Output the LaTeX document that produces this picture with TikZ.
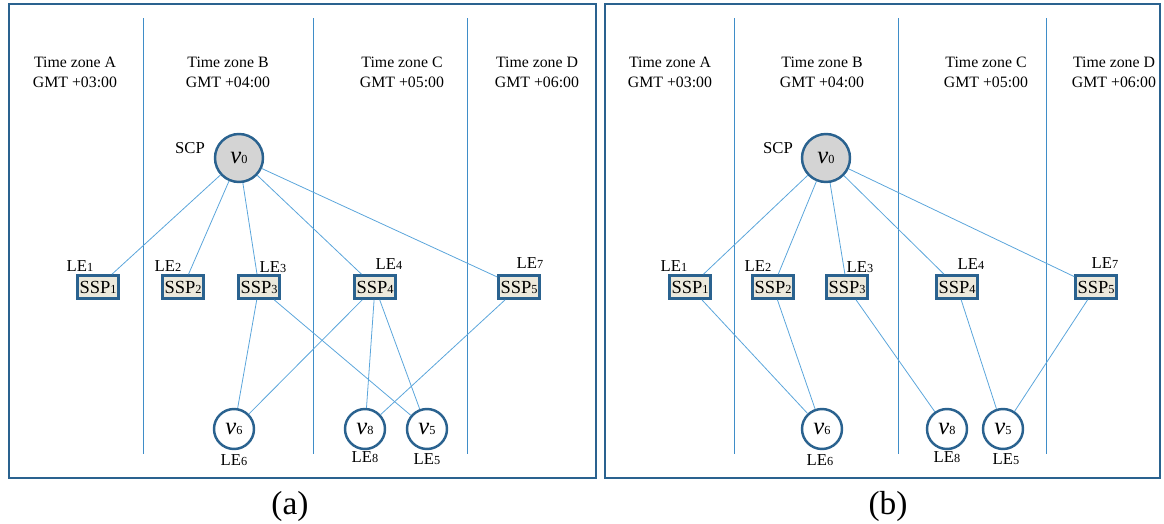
\documentclass[tikz,border=0pt]{standalone}
\usepackage{fontspec}
\setmainfont{Liberation Serif}
\usetikzlibrary{positioning}

\definecolor{frameblue}{HTML}{2A628F}
\definecolor{zoneblue}{HTML}{3F8DC8}
\definecolor{linkblue}{HTML}{5AA5DB}
\definecolor{boxfill}{HTML}{ECE9DC}
\definecolor{nodegray}{HTML}{D4D4D4}

\newcommand\sm[1]{{\fontsize{7}{7}\selectfont #1}}
\newcommand\vv[1]{{\fontsize{14}{14}\selectfont\itshape v}\sm{#1}}

\begin{document}
\begin{tikzpicture}[x=0.02cm,y=-0.02cm,
              every node/.style={font=\fontsize{9}{11.3}\selectfont},
              panel/.style={draw=frameblue,line width=1.2pt},
              zone/.style={draw=zoneblue,line width=0.5pt},
              link/.style={draw=linkblue,line width=0.45pt},
              ssp/.style={draw=frameblue,fill=boxfill,line width=1.5pt,minimum width=0.82cm,minimum height=0.46cm,inner sep=1pt,font=\fontsize{10.5}{12}\selectfont},
              le/.style={circle,draw=frameblue,fill=white,line width=1.4pt,minimum size=0.8cm,inner sep=0pt},
              scp/.style={le,fill=nodegray,minimum size=0.96cm},
              zonetext/.style={align=center},
              lbl/.style={inner sep=1pt,font=\fontsize{9.5}{11}\selectfont},
              caption/.style={font=\fontsize{19}{21}\selectfont}
            ]
  \useasboundingbox (0,0) rectangle (1164,524);

  % frames
  \draw[panel] (9,4) rectangle (596,478);
  \draw[panel] (605,4) rectangle (1160,478);

  % time zone borders
  \foreach \x in {143,313,467,734,898,1046}
    \draw[zone] (\x,18) -- (\x,454);

  % time zone texts
  \foreach \x/\z/\g in {75/A/03,228/B/04,402/C/05,537/D/06,670/A/03,822/B/04,986/C/05,1114/D/06}
    \node[zonetext] at (\x,72) {Time zone \z\\GMT +\g:00};

  % panel (a)
  \node[scp] (v0a) at (239,158) {\vv{0}};
  \node[lbl] at (190,148) {SCP};
  \node[ssp] (s1a) at (98,287) {SSP\sm{1}};
  \node[ssp] (s2a) at (183,287) {SSP\sm{2}};
  \node[ssp] (s3a) at (259,287) {SSP\sm{3}};
  \node[ssp] (s4a) at (375,287) {SSP\sm{4}};
  \node[ssp] (s5a) at (519,287) {SSP\sm{5}};
  \node[lbl] at (80,266) {LE\sm{1}};
  \node[lbl] at (168,266) {LE\sm{2}};
  \node[lbl] at (273,267) {LE\sm{3}};
  \node[lbl] at (389,264) {LE\sm{4}};
  \node[lbl] at (530,263) {LE\sm{7}};
  \node[le] (v6a) at (234,429) {\vv{6}};
  \node[le] (v8a) at (365,429) {\vv{8}};
  \node[le] (v5a) at (427,429) {\vv{5}};
  \node[lbl] at (234,460) {LE\sm{6}};
  \node[lbl] at (365,457) {LE\sm{8}};
  \node[lbl] at (427,459) {LE\sm{5}};

  % panel (b)
  \node[scp] (v0b) at (826,158) {\vv{0}};
  \node[lbl] at (778,148) {SCP};
  \node[ssp] (s1b) at (690,287) {SSP\sm{1}};
  \node[ssp] (s2b) at (773,287) {SSP\sm{2}};
  \node[ssp] (s3b) at (847,287) {SSP\sm{3}};
  \node[ssp] (s4b) at (957,287) {SSP\sm{4}};
  \node[ssp] (s5b) at (1096,287) {SSP\sm{5}};
  \node[lbl] at (674,266) {LE\sm{1}};
  \node[lbl] at (758,266) {LE\sm{2}};
  \node[lbl] at (860,267) {LE\sm{3}};
  \node[lbl] at (971,264) {LE\sm{4}};
  \node[lbl] at (1105,263) {LE\sm{7}};
  \node[le] (v6b) at (822,429) {\vv{6}};
  \node[le] (v8b) at (947,429) {\vv{8}};
  \node[le] (v5b) at (1003,429) {\vv{5}};
  \node[lbl] at (820,460) {LE\sm{6}};
  \node[lbl] at (947,457) {LE\sm{8}};
  \node[lbl] at (1006,459) {LE\sm{5}};

  % links
  \foreach \a/\b in {v0a/s1a,v0a/s2a,v0a/s3a,v0a/s4a,v0a/s5a,
                     s3a/v6a,s4a/v6a,s3a/v5a,s4a/v8a,s4a/v5a,s5a/v8a,
                     v0b/s1b,v0b/s2b,v0b/s3b,v0b/s4b,v0b/s5b,
                     s1b/v6b,s2b/v6b,s3b/v8b,s4b/v5b,s5b/v5b}
    \draw[link] (\a) -- (\b);

  \node[caption] at (290,506) {(a)};
  \node[caption] at (888,506) {(b)};
\end{tikzpicture}
\end{document}
